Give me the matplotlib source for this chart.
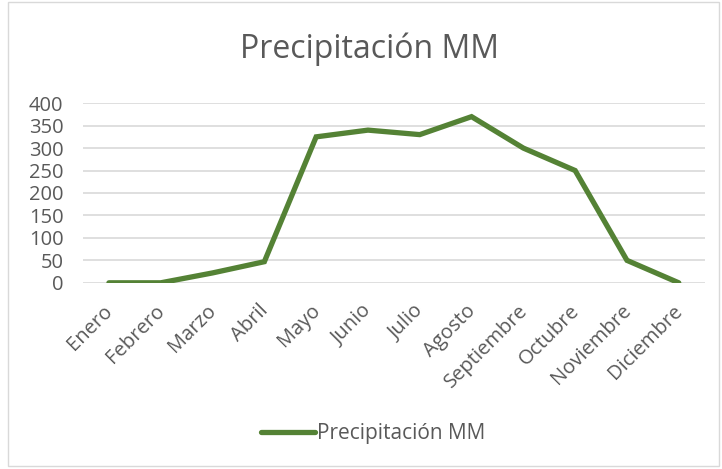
import matplotlib.pyplot as plt
import matplotlib.transforms as mtransforms
from matplotlib.patches import Rectangle

meses = ["Enero", "Febrero", "Marzo", "Abril", "Mayo", "Junio", "Julio",
         "Agosto", "Septiembre", "Octubre", "Noviembre", "Diciembre"]
precipitacion = [0, 0, 22, 47, 325, 340, 330, 370, 300, 250, 50, 0]
yticks = [0, 50, 100, 150, 200, 250, 300, 350, 400]

texto = "#595959"
verde = "#548235"

plt.rcParams["font.family"] = ["Open Sans", "DejaVu Sans"]

fig = plt.figure(figsize=(7.22, 4.69), dpi=100)
ax = fig.add_axes([0.115, 0.397, 0.861, 0.383])

x = range(len(meses))
ax.plot(x, precipitacion, color=verde, linewidth=3.8, solid_capstyle="round",
        solid_joinstyle="miter", label="Precipitación MM", zorder=3)

ax.set_xlim(-0.5, len(meses) - 0.5)
ax.set_ylim(0, 400)
ax.set_yticks(yticks)
ax.set_xticks(list(x))
ax.set_xticklabels(meses, rotation=45, ha="right", rotation_mode="anchor")
ax.tick_params(axis="both", length=0, labelsize=14.5, colors=texto)
ax.tick_params(axis="x", pad=13)
ax.tick_params(axis="y", pad=14)
# desplazar las etiquetas de los meses un poco a la izquierda
desplazamiento = mtransforms.ScaledTranslation(-6 / 100, 0, fig.dpi_scale_trans)
for lbl in ax.get_xticklabels():
    lbl.set_transform(lbl.get_transform() + desplazamiento)
ax.grid(axis="y", color="#d9d9d9", linewidth=1.2)
ax.set_axisbelow(True)
for s in ax.spines.values():
    s.set_visible(False)

fig.text(0.512, 0.895, "Precipitación MM", ha="center", va="center",
         fontsize=23, color=texto)

leg = fig.legend(loc="center", bbox_to_anchor=(0.517, 0.075), frameon=False,
                 fontsize=15, handlelength=2.6, handletextpad=0.1)
for t in leg.get_texts():
    t.set_color(texto)

# borde del área del gráfico
fig.patches.append(Rectangle((0.011, 0.006), 0.985, 0.99, transform=fig.transFigure,
                             fill=False, edgecolor="#d9d9d9", linewidth=1))

fig.savefig("out.png", dpi=100)
